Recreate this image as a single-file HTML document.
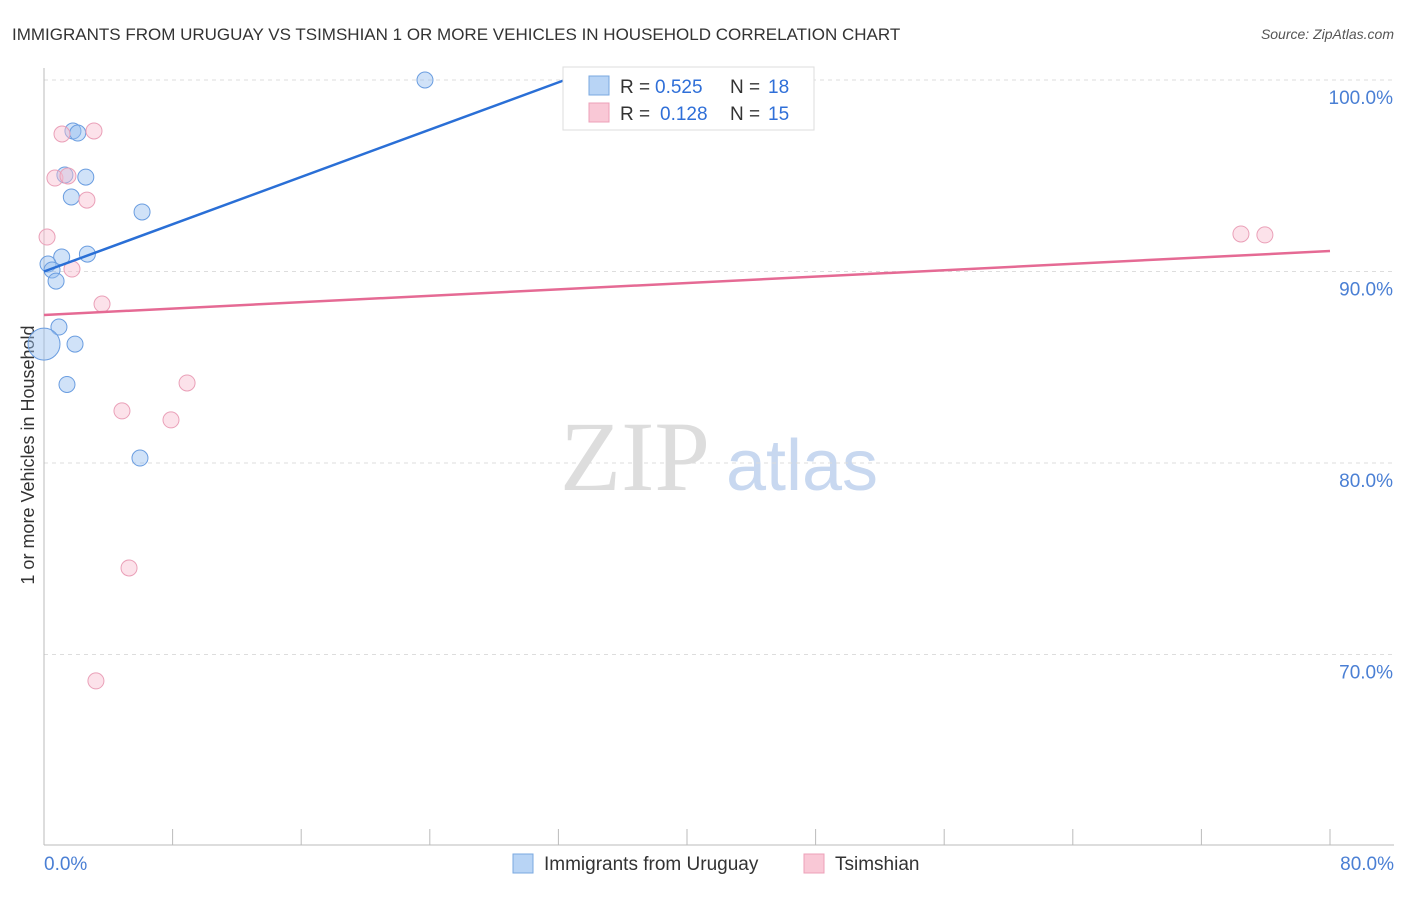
<!DOCTYPE html>
<html><head><meta charset="utf-8"><style>
body{margin:0;background:#fff;font-family:"Liberation Sans",sans-serif}
</style></head><body>
<svg id="c" width="1406" height="892" xmlns="http://www.w3.org/2000/svg" font-family="Liberation Sans, sans-serif">
<text x="12" y="40" font-size="17" fill="#333">IMMIGRANTS FROM URUGUAY VS TSIMSHIAN 1 OR MORE VEHICLES IN HOUSEHOLD CORRELATION CHART</text>
<text x="1394" y="39" font-size="14" fill="#555" font-style="italic" text-anchor="end">Source: ZipAtlas.com</text>
<text transform="translate(34,455) rotate(-90)" font-size="18" fill="#333" text-anchor="middle">1 or more Vehicles in Household</text>
<g><text x="635" y="490" font-size="100" fill="#ddd" style="font-family:'Liberation Serif',serif" text-anchor="middle">ZIP</text><text x="802" y="490" font-size="72" fill="#c8d8f0" text-anchor="middle">atlas</text></g>
<g id="grid"></g><g id="axes"></g><g id="marks"></g>
<g>
<rect x="563" y="67" width="251" height="63" fill="#fff" stroke="#ddd"/>
<rect x="589" y="76" width="20" height="19" fill="#b8d4f5" stroke="#7aa8e0"/>
<rect x="589" y="103" width="20" height="19" fill="#f9c8d6" stroke="#eda0b8"/>
<text x="620" y="93" font-size="19" fill="#333">R =</text>
<text x="655" y="93" font-size="19" fill="#2f6fd8">0.525</text>
<text x="730" y="93" font-size="19" fill="#333">N =</text>
<text x="768" y="93" font-size="19" fill="#2f6fd8">18</text>
<text x="620" y="120" font-size="19" fill="#333">R =</text>
<text x="660" y="120" font-size="19" fill="#2f6fd8">0.128</text>
<text x="730" y="120" font-size="19" fill="#333">N =</text>
<text x="768" y="120" font-size="19" fill="#2f6fd8">15</text>
</g>
<g>
<rect x="513" y="854" width="20" height="19" fill="#b8d4f5" stroke="#7aa8e0"/>
<text x="544" y="870" font-size="19" fill="#333">Immigrants from Uruguay</text>
<rect x="804" y="854" width="20" height="19" fill="#f9c8d6" stroke="#eda0b8"/>
<text x="835" y="870" font-size="19" fill="#333">Tsimshian</text>
</g>
</svg>
<script>
const yTicks=[100,90,80,70];
const yTickLabels=["100.0%","90.0%","80.0%","70.0%"];
const xTickLabels=["0.0%","80.0%"];
const blueX=[23.7,35.3,1.8,2.1,1.3,2.6,1.7,6.1,1.1,2.7,0.25,0.5,0.75,0.93,0,1.93,1.43,5.97];
const blueY=[100,100,97.34,97.23,95.04,94.93,93.89,93.11,90.76,90.91,90.39,90.08,89.5,87.1,86.21,86.21,84.1,80.26];
const blueR=[8,8,8,8,8,8,8,8,8,8,8,8,8,8,16,8,8,8];
const pinkX=[0.19,1.12,3.11,0.68,1.49,2.67,1.74,3.61,4.85,7.9,8.9,5.29,3.23,74.46,75.95];
const pinkY=[91.8,97.18,97.34,94.88,94.99,93.73,90.13,88.3,82.72,82.25,84.18,74.52,68.62,91.96,91.91];
const blueTrend=[[0,90.0],[32.4,100]];
const pinkTrend=[[0,87.73],[80,91.07]];
const X=v=>44+v/80*1286, Y=v=>80+(100-v)*19.15;
const NS="http://www.w3.org/2000/svg";
function mk(t,a,p){const e=document.createElementNS(NS,t);for(const k in a)e.setAttribute(k,a[k]);document.getElementById(p).appendChild(e);return e;}
yTicks.forEach((t,i)=>{
 const l=mk('line',{x1:44,x2:1394,y1:Y(t),y2:Y(t),stroke:'#ddd','stroke-dasharray':'4,4'},'grid');
 
 
 const tx=mk('text',{x:1393,y:Y(t)+24,'font-size':19,fill:'#4a7fd4','text-anchor':'end'},'axes');tx.textContent=yTickLabels[i];
 
 
});
const ax=mk('line',{x1:44,x2:44,y1:68,y2:845,stroke:'#bbb'},'axes');


const bx=mk('line',{x1:44,x2:1394,y1:845,y2:845,stroke:'#bbb'},'axes');


for(let i=0;i<=10;i++){const t=mk('line',{x1:X(i*8),x2:X(i*8),y1:829,y2:845,stroke:'#bbb'},'axes');
 
 }
[[0,44,'start'],[80,1394,'end']].forEach((d,i)=>{const t=mk('text',{x:d[1],y:870,'font-size':19,fill:'#4a7fd4','text-anchor':d[2]},'axes');t.textContent=xTickLabels[i];
 
 });
blueX.forEach((x,i)=>{const c=mk('circle',{cx:X(x),cy:Y(blueY[i]),r:blueR[i],fill:'rgba(150,190,240,0.45)',stroke:'#6a9de0','stroke-width':1},'marks');
 
 });
pinkX.forEach((x,i)=>{const c=mk('circle',{cx:X(x),cy:Y(pinkY[i]),r:8,fill:'rgba(248,190,208,0.45)',stroke:'#eaa0b8','stroke-width':1},'marks');
 
 });
const bl=mk('line',{x1:X(blueTrend[0][0]),y1:Y(blueTrend[0][1]),x2:X(blueTrend[1][0]),y2:Y(blueTrend[1][1]),stroke:'#2a6fd6','stroke-width':2.5},'marks');


const pl=mk('line',{x1:X(pinkTrend[0][0]),y1:Y(pinkTrend[0][1]),x2:X(pinkTrend[1][0]),y2:Y(pinkTrend[1][1]),stroke:'#e56a94','stroke-width':2.5},'marks');


</script>
</body></html>
